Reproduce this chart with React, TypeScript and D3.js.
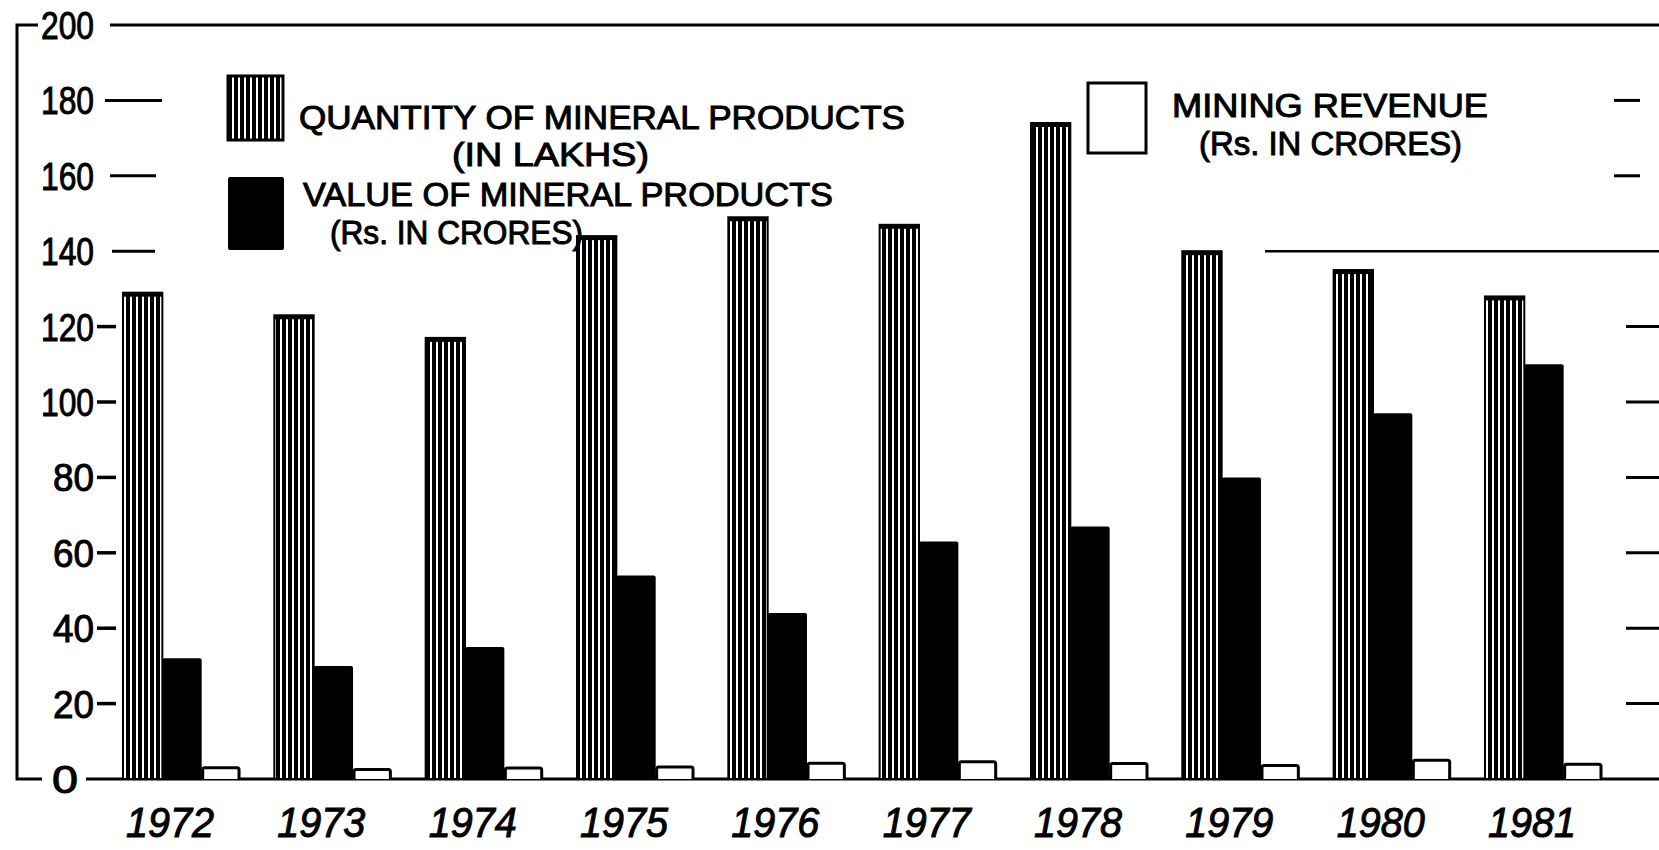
import React, { useEffect, useRef } from "react";
import * as d3 from "d3";

// values
const years = ["1972", "1973", "1974", "1975", "1976", "1977", "1978", "1979", "1980", "1981"];
const quantity = [129, 123, 117, 144, 149, 147, 174, 140, 135, 128]; // in lakhs
const mineralValue = [32, 30, 35, 54, 44, 63, 67, 80, 97, 110]; // Rs. in crores
const revenue = [3.0, 2.5, 2.9, 3.2, 4.2, 4.6, 4.1, 3.6, 5.0, 3.9]; // Rs. in crores
const yTicks = [0, 20, 40, 60, 80, 100, 120, 140, 160, 180, 200];
const rightTicks = [20, 40, 60, 80, 100, 120, 160, 180];
const guideValue = 140;

const FONT = "'Liberation Sans', 'DejaVu Sans', sans-serif";

function MineralChart() {
    const ref = useRef<SVGSVGElement>(null);

    useEffect(() => {
        const svg = d3.select(ref.current);
        svg.selectAll("*").remove();

        const width = 1659;
        const y = d3.scaleLinear().domain([0, 200]).range([779, 25]);
        const x = d3.scaleBand().domain(years).range([123, 1603]).paddingInner(0.22).paddingOuter(0);
        const sub = d3.scaleBand().domain(["quantity", "value", "revenue"]).range([0, x.bandwidth()]);
        const bw = sub.bandwidth();

        svg.append("rect").attr("width", width).attr("height", 850).attr("fill", "#fff");

        // vertical hatching used for the quantity bars
        const defs = svg.append("defs");
        const pat = defs.append("pattern")
            .attr("id", "vhatch")
            .attr("patternUnits", "userSpaceOnUse")
            .attr("width", 6)
            .attr("height", 10);
        pat.append("rect").attr("width", 6).attr("height", 10).attr("fill", "#fff");
        pat.append("rect").attr("width", 4).attr("height", 10).attr("fill", "#000");

        const line = (d: string, w = 3) =>
            svg.append("path").attr("d", d).attr("fill", "none").attr("stroke", "#000").attr("stroke-width", w);

        // frame: left bracket, top line, baseline
        line(`M38,${y(200)}H17V${y(0)}H42`);
        line(`M110,${y(200)}H${width}`);
        line(`M86,${y(0)}H${width}`);
        line(`M1265,${y(guideValue)}H${width}`, 2.5);

        // left ticks + labels
        yTicks.forEach(v => {
            const long = v >= 140 && v < 200;
            if (long) {
                const x1 = v === 180 ? 105 : v === 160 ? 110 : 112;
                const x2 = v === 180 ? 162 : v === 160 ? 156 : 155;
                line(`M${x1},${y(v)}H${x2}`);
            } else if (v > 0 && v < 140) {
                line(`M97,${y(v)}H116`, 3.5);
            }
            const label = String(v);
            svg.append("text")
                .attr("x", v === 0 ? 78 : 94)
                .attr("y", y(v))
                .attr("dy", "0.36em")
                .attr("text-anchor", "end")
                .attr("font-family", FONT)
                .attr("font-size", 39)
                .attr("stroke", "#000")
                .attr("stroke-width", 1)
                .attr("textLength", label.length === 3 ? 53 : label.length === 2 ? 41 : 26)
                .attr("lengthAdjust", "spacingAndGlyphs")
                .text(label);
        });

        // right-hand dashes
        rightTicks.forEach(v => {
            const x1 = v >= 160 ? 1614 : 1626;
            const x2 = v >= 160 ? 1640 : width;
            line(`M${x1},${y(v)}H${x2}`, 3);
        });

        const g = svg.append("g");

        // quantity bars (hatched)
        g.selectAll(".qty")
            .data(quantity)
            .enter().append("rect")
            .attr("class", "qty")
            .attr("x", (d, i) => x(years[i])! + sub("quantity")!)
            .attr("y", d => y(d))
            .attr("width", bw)
            .attr("height", d => y(0) - y(d))
            .attr("fill", "url(#vhatch)")
            .attr("stroke", "#000")
            .attr("stroke-width", 2);
        g.selectAll(".qtycap")
            .data(quantity)
            .enter().append("rect")
            .attr("class", "qtycap")
            .attr("x", (d, i) => x(years[i])! + sub("quantity")!)
            .attr("y", d => y(d))
            .attr("width", bw)
            .attr("height", 4)
            .attr("fill", "#000");

        // value bars (solid)
        g.selectAll(".val")
            .data(mineralValue)
            .enter().append("rect")
            .attr("class", "val")
            .attr("x", (d, i) => x(years[i])! + sub("value")!)
            .attr("y", d => y(d))
            .attr("width", bw)
            .attr("height", d => y(0) - y(d))
            .attr("rx", 2)
            .attr("fill", "#000");

        // revenue bars (open)
        g.selectAll(".rev")
            .data(revenue)
            .enter().append("path")
            .attr("class", "rev")
            .attr("d", (d, i) => {
                const x0 = x(years[i])! + sub("revenue")! + 1;
                const x1 = x0 + bw - 3;
                return `M${x0},${y(0)}V${y(d) + 2}Q${x0},${y(d)} ${x0 + 2},${y(d)}H${x1 - 2}Q${x1},${y(d)} ${x1},${y(d) + 2}V${y(0)}`;
            })
            .attr("fill", "#fff")
            .attr("stroke", "#000")
            .attr("stroke-width", 3);

        // year labels
        svg.selectAll(".year")
            .data(years)
            .enter().append("text")
            .attr("class", "year")
            .attr("x", d => x(d)! + x.bandwidth() / 2 - 12)
            .attr("y", 837)
            .attr("text-anchor", "middle")
            .attr("font-family", FONT)
            .attr("font-style", "italic")
            .attr("font-size", 42)
            .attr("stroke", "#000")
            .attr("stroke-width", 1)
            .attr("textLength", 88)
            .attr("lengthAdjust", "spacingAndGlyphs")
            .text(d => d);

        // legend
        svg.append("rect").attr("x", 228).attr("y", 76).attr("width", 55).attr("height", 64)
            .attr("fill", "url(#vhatch)").attr("stroke", "#000").attr("stroke-width", 3);
        svg.append("rect").attr("x", 228).attr("y", 177).attr("width", 56).attr("height", 73)
            .attr("rx", 2).attr("fill", "#000");
        svg.append("rect").attr("x", 1088).attr("y", 83).attr("width", 58).attr("height", 70)
            .attr("fill", "#fff").attr("stroke", "#000").attr("stroke-width", 3);

        const legendText = [
            { t: "QUANTITY OF MINERAL PRODUCTS", x: 299, y: 129, w: 606 },
            { t: "(IN LAKHS)", x: 452, y: 166, w: 197 },
            { t: "VALUE OF MINERAL PRODUCTS", x: 303, y: 206, w: 530 },
            { t: "(Rs. IN CRORES)", x: 330, y: 244, w: 253 },
            { t: "MINING REVENUE", x: 1172, y: 117, w: 316 },
            { t: "(Rs. IN CRORES)", x: 1199, y: 155, w: 263 },
        ];
        legendText.forEach(l => {
            svg.append("text")
                .attr("x", l.x)
                .attr("y", l.y)
                .attr("font-family", FONT)
                .attr("font-size", 33)
                .attr("stroke", "#000")
                .attr("stroke-width", 1)
                .attr("textLength", l.w)
                .attr("lengthAdjust", "spacingAndGlyphs")
                .text(l.t);
        });
    }, []);

    return (
        <svg ref={ref} width={1659} height={850} style={{ position: "absolute", left: 0, top: 0 }}></svg>
    );
}

export default function App() {
    return <MineralChart />;
}
